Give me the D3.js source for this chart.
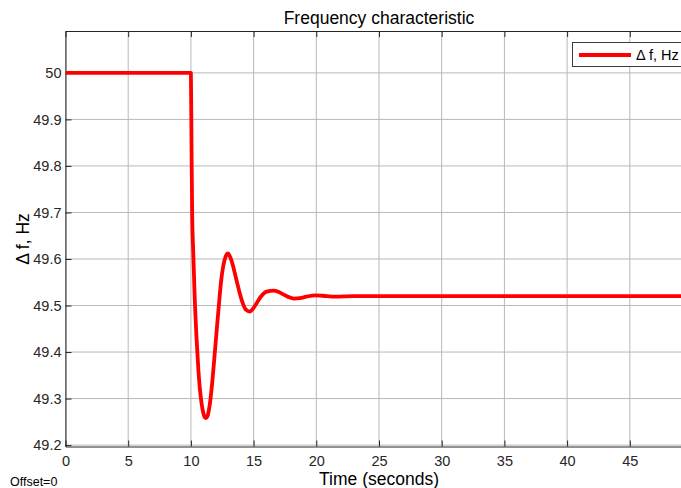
<!DOCTYPE html>
<html><head><meta charset="utf-8">
<script src="https://cdn.jsdelivr.net/npm/d3@7/dist/d3.min.js"></script>
<style>
html,body{margin:0;padding:0;background:#fff;}
svg{display:block;font-family:"Liberation Sans",Arial,Helvetica,sans-serif;}
</style></head>
<body>
<svg id="chart" width="681" height="488"></svg>
<script>
const timeValues = [0, 10, 10.05, 10.1, 10.18, 10.3, 10.45, 10.6, 10.72, 10.85, 10.98, 11.1, 11.2, 11.32, 11.52, 11.72, 11.91, 12.1, 12.26, 12.42, 12.58, 12.78, 12.95, 13.15, 13.38, 13.65, 13.9, 14.15, 14.38, 14.7, 14.95, 15.24, 15.6, 16.04, 16.6, 17.0, 17.37, 17.8, 18.2, 18.7, 19.2, 19.9, 20.5, 21.5, 23, 26, 30, 35, 40, 45, 50];
const freqValues = [50, 50, 49.84, 49.70, 49.62, 49.52, 49.43, 49.36, 49.32, 49.29, 49.27, 49.26, 49.258, 49.262, 49.29, 49.34, 49.40, 49.46, 49.51, 49.555, 49.585, 49.606, 49.612, 49.603, 49.583, 49.553, 49.526, 49.504, 49.491, 49.487, 49.493, 49.505, 49.52, 49.530, 49.532, 49.529, 49.524, 49.518, 49.515, 49.516, 49.519, 49.522, 49.521, 49.519, 49.520, 49.520, 49.520, 49.520, 49.520, 49.520, 49.520];
const xTicks = [0, 5, 10, 15, 20, 25, 30, 35, 40, 45, 50];
const yTicks = [49.2, 49.3, 49.4, 49.5, 49.6, 49.7, 49.8, 49.9, 50];
const titleText = "Frequency characteristic";
const xLabel = "Time (seconds)";
const yLabel = "\u0394 f, Hz";
const legendLabel = "\u0394 f, Hz";
const offsetText = "Offset=0";

const svg = d3.select("#chart");
const L = 65.5, R = 692.5, T = 31, B = 446.5;
const x = d3.scaleLinear().domain([0, 50]).range([L, R]);
const y = d3.scaleLinear().domain([49.197, 50.09]).range([B, T]);
const axisColor = "#262626";

// grid
const grid = svg.append("g");
grid.selectAll("line.v").data(xTicks).enter().append("line")
  .attr("x1", d => x(d)).attr("x2", d => x(d)).attr("y1", T).attr("y2", B)
  .attr("stroke", "#b8b8b8").attr("stroke-width", 1);
grid.selectAll("line.h").data(yTicks).enter().append("line")
  .attr("x1", L).attr("x2", R).attr("y1", d => y(d)).attr("y2", d => y(d))
  .attr("stroke", "#b8b8b8").attr("stroke-width", 1);

// axes with inward ticks
const xAxis = d3.axisBottom(x).tickValues(xTicks.filter(d => d < 50)).tickSizeInner(-6).tickSizeOuter(0).tickPadding(9);
const gx = svg.append("g").attr("transform", `translate(0,${B})`).call(xAxis);
const yAxis = d3.axisLeft(y).tickValues(yTicks).tickFormat(d3.format("~g")).tickSizeInner(-6).tickSizeOuter(0).tickPadding(4);
const gy = svg.append("g").attr("transform", `translate(${L},0)`).call(yAxis);
const xTop = d3.axisTop(x).tickValues(xTicks).tickSizeInner(-6).tickSizeOuter(0).tickFormat("");
const gt = svg.append("g").attr("transform", `translate(0,${T})`).call(xTop);
[gx, gy, gt].forEach(g => {
  g.select(".domain").attr("stroke", axisColor);
  g.selectAll(".tick line").attr("stroke", axisColor);
  g.selectAll(".tick text").attr("fill", axisColor).style("font-size", "14.5px")
    .style("font-family", "'Liberation Sans',Arial,sans-serif");
});

// clip
svg.append("clipPath").attr("id", "clip").append("rect")
  .attr("x", L).attr("y", T).attr("width", R - L).attr("height", B - T);

const data = timeValues.map((t, i) => [t, freqValues[i]]);
const line = d3.line().x(d => x(d[0])).y(d => y(d[1])).curve(d3.curveMonotoneX);
svg.append("path").datum(data).attr("clip-path", "url(#clip)")
  .attr("d", line).attr("fill", "none").attr("stroke", "#ff0000")
  .attr("stroke-width", 3.8).attr("stroke-linejoin", "round");

// title & labels
svg.append("text").attr("x", (L + R) / 2).attr("y", 24).attr("text-anchor", "middle")
  .attr("fill", "#000").style("font-size", "17.5px").text(titleText);
svg.append("text").attr("x", (L + R) / 2).attr("y", 485).attr("text-anchor", "middle")
  .attr("fill", "#000").style("font-size", "17.5px").text(xLabel);
svg.append("text").attr("transform", `translate(29,${239}) rotate(-90)`).attr("text-anchor", "middle")
  .attr("fill", "#000").style("font-size", "17.5px").text(yLabel);
svg.append("text").attr("x", 10).attr("y", 486).attr("fill", "#000")
  .style("font-size", "12.5px").text(offsetText);

// legend
const lg = svg.append("g");
lg.append("rect").attr("x", 572.5).attr("y", 42.5).attr("width", 130).attr("height", 24)
  .attr("fill", "#fff").attr("stroke", "#3a3a3a").attr("stroke-width", 1);
lg.append("line").attr("x1", 579).attr("x2", 631).attr("y1", 55).attr("y2", 55)
  .attr("stroke", "#ff0000").attr("stroke-width", 3.8);
lg.append("text").attr("x", 636).attr("y", 60).attr("fill", "#000")
  .style("font-size", "14.5px").text(legendLabel);
</script>
</body></html>
